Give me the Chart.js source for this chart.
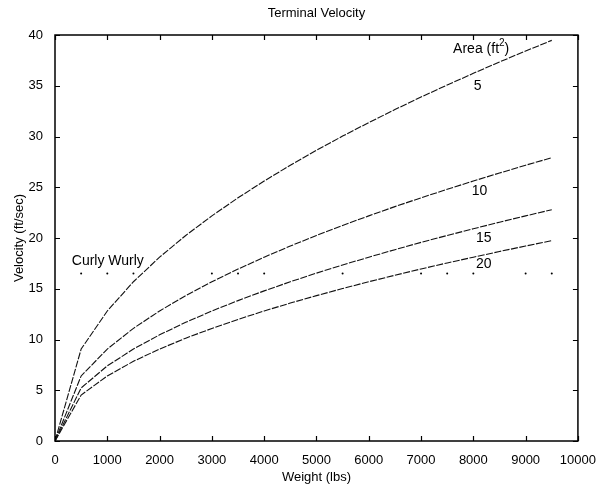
<!DOCTYPE html>
<html>
<head>
<meta charset="utf-8">
<script src="https://cdn.jsdelivr.net/npm/chart.js@4.4.0/dist/chart.umd.min.js"></script>
<style>
    body { margin: 0; background: #fff; }
    #wrap { width: 600px; height: 493px; }
</style>
</head>
<body>
<div id="wrap"><canvas id="chart"></canvas></div>
<script>
// weights (lbs) the curves were sampled at
const weights = [0, 500, 1000, 1500, 2000, 2500, 3000, 3500, 4000, 4500,
    5000, 5500, 6000, 6500, 7000, 7500, 8000, 8500, 9000, 9500];

// velocity (ft/sec) for each parachute area
const area5 = [0, 9.06, 12.81, 15.69, 18.11, 20.25, 22.18, 23.96, 25.61, 27.17,
    28.64, 30.04, 31.37, 32.65, 33.89, 35.07, 36.22, 37.34, 38.42, 39.47];
const area10 = [0, 6.41, 9.06, 11.10, 12.81, 14.32, 15.69, 16.94, 18.11, 19.21,
    20.25, 21.24, 22.18, 23.09, 23.96, 24.80, 25.61, 26.40, 27.17, 27.91];
const area15 = [0, 5.23, 7.40, 9.06, 10.46, 11.69, 12.81, 13.83, 14.79, 15.69,
    16.54, 17.34, 18.11, 18.85, 19.57, 20.25, 20.91, 21.56, 22.18, 22.79];
const area20 = [0, 4.53, 6.41, 7.85, 9.06, 10.13, 11.09, 11.98, 12.81, 13.59,
    14.32, 15.02, 15.69, 16.33, 16.95, 17.54, 18.11, 18.67, 19.21, 19.74];

// the dotted "Curly Wurly" reference line
const curlyX = [500, 1000, 1500, 3000, 3500, 4000, 5500, 7000, 7500, 8000, 9000, 9500];
const curlyV = 16.5;

const xTicks = [0, 1000, 2000, 3000, 4000, 5000, 6000, 7000, 8000, 9000, 10000];
const yTicks = [0, 5, 10, 15, 20, 25, 30, 35, 40];

// text placed inside the plot: [label, weight, velocity]
const labels = [
    ['5', 8080, 35.0],
    ['10', 8120, 24.6],
    ['15', 8200, 20.0],
    ['20', 8200, 17.4],
    ['Curly Wurly', 1010, 17.7]
];

const FONT = '"Liberation Sans", Arial, Helvetica, sans-serif';

function toPoints(ys) {
    return weights.map((w, i) => ({ x: w, y: ys[i] }));
}

function curve(ys) {
    return {
        data: toPoints(ys),
        showLine: true,
        borderColor: '#111',
        borderWidth: 1.1,
        borderDash: [7, 1.5],
        pointRadius: 0,
        tension: 0
    };
}

const matlabBox = {
    id: 'matlabBox',
    afterDraw(chart) {
        const ctx = chart.ctx;
        const a = chart.chartArea;
        const xs = chart.scales.x;
        const ys = chart.scales.y;
        ctx.save();
        ctx.strokeStyle = '#000';
        ctx.lineWidth = 1.5;
        ctx.strokeRect(a.left, a.top, a.right - a.left, a.bottom - a.top);
        ctx.lineWidth = 1.2;
        ctx.beginPath();
        xTicks.forEach(t => {
            const px = Math.round(xs.getPixelForValue(t)) + 0.5;
            ctx.moveTo(px, a.bottom); ctx.lineTo(px, a.bottom - 5);
            ctx.moveTo(px, a.top); ctx.lineTo(px, a.top + 5);
        });
        yTicks.forEach(t => {
            const py = Math.round(ys.getPixelForValue(t)) + 0.5;
            ctx.moveTo(a.left, py); ctx.lineTo(a.left + 5, py);
            ctx.moveTo(a.right, py); ctx.lineTo(a.right - 5, py);
        });
        ctx.stroke();

        // title
        ctx.fillStyle = '#000';
        ctx.font = '13px ' + FONT;
        ctx.textAlign = 'center';
        ctx.textBaseline = 'middle';
        ctx.fillText('Terminal Velocity', (a.left + a.right) / 2, 13);

        // curve labels
        ctx.font = '14px ' + FONT;
        labels.forEach(l => {
            ctx.fillText(l[0], xs.getPixelForValue(l[1]), ys.getPixelForValue(l[2]));
        });

        // Area (ft^2) with superscript
        const ax = xs.getPixelForValue(8150);
        const ay = ys.getPixelForValue(38.6);
        const p1 = 'Area (ft', p2 = '2', p3 = ')';
        ctx.font = '14px ' + FONT;
        const w1 = ctx.measureText(p1).width;
        const w3 = ctx.measureText(p3).width;
        ctx.font = '10px ' + FONT;
        const w2 = ctx.measureText(p2).width;
        let sx = ax - (w1 + w2 + w3) / 2;
        ctx.textAlign = 'left';
        ctx.font = '14px ' + FONT;
        ctx.fillText(p1, sx, ay);
        ctx.font = '10px ' + FONT;
        ctx.fillText(p2, sx + w1, ay - 6);
        ctx.font = '14px ' + FONT;
        ctx.fillText(p3, sx + w1 + w2, ay);
        ctx.restore();
    }
};

const ctx = document.getElementById('chart').getContext('2d');
const myChart = new Chart(ctx, {
    type: 'scatter',
    data: {
        datasets: [
            curve(area5),
            curve(area10),
            curve(area15),
            curve(area20),
            {
                data: curlyX.map(x => ({ x: x, y: curlyV })),
                showLine: false,
                pointRadius: 1,
                pointBackgroundColor: '#000',
                pointBorderWidth: 0
            }
        ]
    },
    options: {
        responsive: true,
        maintainAspectRatio: false,
        animation: false,
        layout: {
            padding: { top: 35, right: 21, left: 0, bottom: 0 }
        },
        plugins: {
            legend: { display: false },
            tooltip: { enabled: false }
        },
        scales: {
            x: {
                type: 'linear',
                min: 0,
                max: 10000,
                afterFit: function(scale) { scale.height = 52; },
                afterBuildTicks: function(scale) {
                    scale.ticks = xTicks.map(v => ({ value: v }));
                },
                grid: { display: false },
                border: { display: false },
                ticks: {
                    color: '#000',
                    font: { family: FONT, size: 13 },
                    padding: 4,
                    maxRotation: 0,
                    callback: v => String(v)
                },
                title: {
                    display: true,
                    text: 'Weight (lbs)',
                    color: '#000',
                    font: { family: FONT, size: 13 },
                    padding: { top: 0, bottom: 8 }
                }
            },
            y: {
                type: 'linear',
                min: 0,
                max: 40,
                afterFit: function(scale) { scale.width = 55; },
                afterBuildTicks: function(scale) {
                    scale.ticks = yTicks.map(v => ({ value: v }));
                },
                grid: { display: false },
                border: { display: false },
                ticks: {
                    color: '#000',
                    font: { family: FONT, size: 13 },
                    padding: 4
                },
                title: {
                    display: true,
                    text: 'Velocity (ft/sec)',
                    color: '#000',
                    font: { family: FONT, size: 13 },
                    padding: { top: 12, bottom: 0 }
                }
            }
        }
    },
    plugins: [matlabBox]
});
</script>
</body>
</html>
